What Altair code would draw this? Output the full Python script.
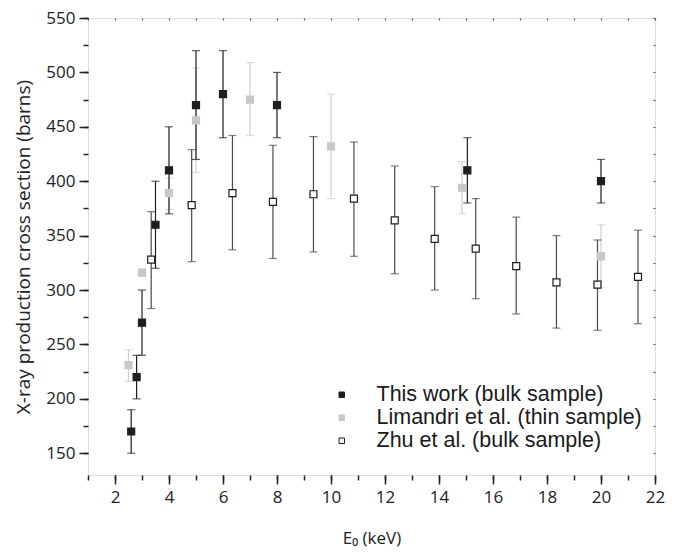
import altair as alt
import pandas as pd

# This work (bulk sample)
tw_x = [2.6, 2.8, 3.0, 3.5, 4.0, 5.0, 6.0, 8.0, 15.05, 20.0]
tw_y = [170, 220, 270, 360, 410, 470, 480, 470, 410, 400]
tw_lo = [150, 200, 240, 320, 370, 420, 440, 440, 380, 380]
tw_hi = [190, 240, 300, 400, 450, 520, 520, 500, 440, 420]

# Limandri et al. (thin sample)
li_x = [2.5, 3.0, 4.0, 5.0, 7.0, 10.0, 14.85, 20.0]
li_y = [231, 316, 389, 456, 475, 432, 394, 331]
li_lo = [216, 313, 374, 408, 442, 384, 370, 302]
li_hi = [245, 319, 403, 504, 509, 480, 418, 360]

# Zhu et al. (bulk sample)
zh_x = [3.34, 4.84, 6.35, 7.85, 9.35, 10.85, 12.36, 13.84, 15.36, 16.86, 18.35, 19.87, 21.37]
zh_y = [328, 378, 389, 381, 388, 384, 364, 347, 338, 322, 307, 305, 312]
zh_lo = [283, 326, 337, 329, 335, 331, 315, 300, 292, 278, 265, 263, 269]
zh_hi = [372, 429, 442, 433, 441, 436, 414, 395, 384, 367, 350, 346, 355]

series_names = ["This work (bulk sample)", "Limandri et al. (thin sample)", "Zhu et al. (bulk sample)"]

x_major = list(range(2, 23, 2))
x_minor = list(range(1, 23))
y_major = list(range(150, 551, 50))
y_minor = list(range(150, 551, 25))

def frame(name, xs, ys, lo, hi):
    return pd.DataFrame({"series": name, "x": xs, "y": ys, "lo": lo, "hi": hi})

df_tw = frame(series_names[0], tw_x, tw_y, tw_lo, tw_hi)
df_li = frame(series_names[1], li_x, li_y, li_lo, li_hi)
df_zh = frame(series_names[2], zh_x, zh_y, zh_lo, zh_hi)
df_all = pd.concat([df_li, df_zh, df_tw], ignore_index=True)

xscale = alt.Scale(domain=[1, 22], nice=False, zero=False)
yscale = alt.Scale(domain=[130, 550], nice=False, zero=False)

INK = "#222222"
LABEL_FONT = "Open Sans"


def errbars(df, color):
    return alt.Chart(df).mark_errorbar(
        ticks={"size": 8, "thickness": 1.2}, color=color, thickness=1.2
    ).encode(
        x=alt.X("x:Q", scale=xscale, axis=None),
        y=alt.Y("lo:Q", scale=yscale, axis=None),
        y2="hi:Q",
    )


eb_li = errbars(df_li, "#cfcfcf")
eb_zh = errbars(df_zh, "#4a4a4a")
eb_tw = errbars(df_tw, "#1e1e1e")

legend_kw = dict(title=None, orient="none", legendX=243, legendY=366,
                 labelFont="Liberation Sans", labelFontSize=21.5, labelColor="#1a1a1a",
                 symbolSize=30, symbolType="square", labelOffset=24, rowPadding=0,
                 padding=0, labelLimit=400, symbolStrokeWidth=1)

points = alt.Chart(df_all).mark_point(shape="square", filled=False, size=49, strokeWidth=1.2, opacity=1).encode(
    x=alt.X("x:Q", scale=xscale, axis=None),
    y=alt.Y("y:Q", scale=yscale, axis=None),
    fill=alt.Fill("series:N", scale=alt.Scale(domain=series_names, range=["#1e1e1e", "#c8c8c8", "#ffffff"]),
                  legend=alt.Legend(**legend_kw)),
    stroke=alt.Stroke("series:N", scale=alt.Scale(domain=series_names, range=["#1e1e1e", "#c8c8c8", "#1e1e1e"]),
                      legend=alt.Legend(**legend_kw)),
    order=alt.Order("series:N"),
)

# invisible layers that carry the axes
axis_major = alt.Chart(df_all).mark_point(opacity=0).encode(
    x=alt.X("x:Q", scale=xscale, axis=alt.Axis(
        orient="bottom", values=x_major, title="E₀ (keV)", tickSize=9, tickWidth=1.5, tickColor=INK,
        domain=False, grid=False, labelFont=LABEL_FONT, labelFontSize=17, labelColor=INK, labelPadding=5,
        titleFont=LABEL_FONT, titleFontSize=17, titleFontWeight="normal", titleColor=INK, titlePadding=25,
        labelFlush=False)),
    y=alt.Y("y:Q", scale=yscale, axis=alt.Axis(
        orient="left", values=y_major, title="X-ray production cross section (barns)", tickSize=9,
        tickWidth=1.5, tickColor=INK, domain=False, grid=False, labelFont=LABEL_FONT, labelFontSize=17,
        labelColor=INK, labelPadding=4, titleFont=LABEL_FONT, titleFontSize=19, titleFontWeight="normal",
        titleColor=INK, titlePadding=12, labelFlush=False)),
)

axis_minor = alt.Chart(df_all).mark_point(opacity=0).encode(
    x=alt.X("x:Q", scale=xscale, axis=alt.Axis(
        orient="bottom", values=x_minor, title=None, labels=False, tickSize=5, tickWidth=1.5,
        tickColor=INK, domain=False, grid=False)),
    y=alt.Y("y:Q", scale=yscale, axis=alt.Axis(
        orient="left", values=y_minor, title=None, labels=False, tickSize=5, tickWidth=1.5,
        tickColor=INK, domain=False, grid=False)),
)

axis_mirror = alt.Chart(df_all).mark_point(opacity=0).encode(
    x=alt.X("x:Q", scale=xscale, axis=alt.Axis(
        orient="top", values=x_minor, title=None, labels=False, tickSize=2, tickWidth=1.2,
        tickColor="#555555", domain=False, grid=False, offset=-2)),
    y=alt.Y("y:Q", scale=yscale, axis=alt.Axis(
        orient="right", values=y_minor, title=None, labels=False, tickSize=2, tickWidth=1.2,
        tickColor="#555555", domain=False, grid=False, offset=-2)),
)

chart = alt.layer(
    axis_major, axis_minor, axis_mirror, eb_li, eb_zh, eb_tw, points
).resolve_axis(
    x="independent", y="independent"
).properties(
    width=567, height=457,
    autosize=alt.AutoSizeParams(type="none"),
    padding={"left": 88, "top": 18, "right": 30, "bottom": 79},
).configure_view(
    stroke=INK, strokeWidth=1.6
).configure(background="white")

chart.save("out.html", embed_options={"renderer": "svg", "actions": False})
